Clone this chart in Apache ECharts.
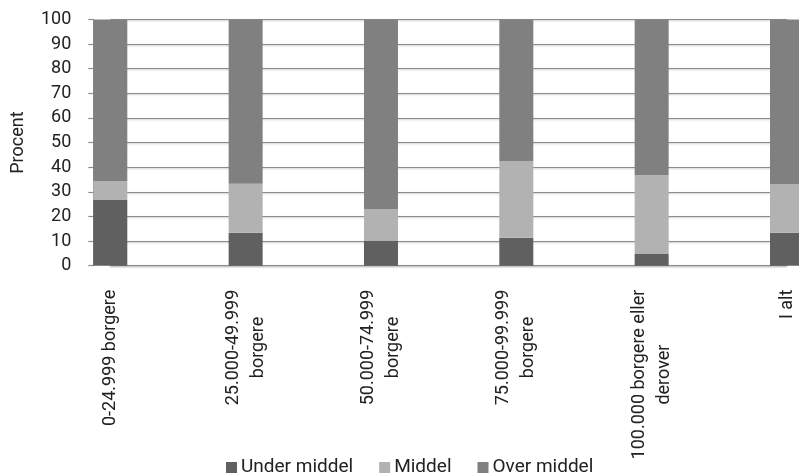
<!DOCTYPE html>
<html>
<head>
<meta charset="utf-8">
<script src="https://cdn.jsdelivr.net/npm/echarts@6/dist/echarts.min.js"></script>
<style>html,body{margin:0;padding:0;background:#fff}#c{width:799px;height:475px}</style>
</head>
<body>
<div id="c"></div>
<script>
const categories = ['0-24.999 borgere', '25.000-49.999\nborgere', '50.000-74.999\nborgere', '75.000-99.999\nborgere', '100.000 borgere eller\nderover', 'I alt'];
const seriesNames = ['Under middel', 'Middel', 'Over middel'];
const underMiddel = [26.7, 13.4, 10.2, 11.4, 5.0, 13.4];
const middel = [7.7, 19.9, 12.8, 31.0, 31.8, 19.7];
const overMiddel = [65.6, 66.7, 77.0, 57.6, 63.2, 66.9];
const yTicks = [0, 10, 20, 30, 40, 50, 60, 70, 80, 90, 100];
const colors = ['#606060', '#b2b2b2', '#808080'];

const FONT = 'Roboto, "Noto Sans", sans-serif';
const chart = echarts.init(document.getElementById('c'), null, {renderer: 'canvas'});
const values = [underMiddel, middel, overMiddel];
chart.setOption({
  animation: false,
  color: colors,
  textStyle: {fontFamily: FONT},
  grid: {left: 110.3, right: 12, top: 19.5, bottom: 209.3, containLabel: false},
  legend: {
    bottom: -7, left: 221,
    itemWidth: 11, itemHeight: 11, itemGap: 26,
    icon: 'rect',
    textStyle: {fontFamily: FONT, fontSize: 19, color: '#222', padding: [0, 0, 0, -1]},
    data: seriesNames
  },
  xAxis: {
    type: 'category',
    data: categories,
    boundaryGap: false,
    axisLine: {show: true, lineStyle: {color: '#8c8c8c', width: 1.2, shadowColor: 'rgba(0,0,0,0.25)', shadowBlur: 2, shadowOffsetY: 1}},
    axisTick: {show: false},
    splitLine: {show: false},
    axisLabel: {
      rotate: 90, margin: 24, interval: 0,
      color: '#222', fontFamily: FONT, fontSize: 18,
      formatter: v => v.split('\n').map(s => '{c|' + s + '}').join('\n'),
      rich: {c: {align: 'center', fontFamily: FONT, fontSize: 18, lineHeight: 25, color: '#222'}}
    }
  },
  yAxis: {
    type: 'value', min: yTicks[0], max: yTicks[yTicks.length - 1], interval: 10,
    offset: 17,
    name: 'Procent', nameLocation: 'middle', nameGap: 66, nameRotate: 90,
    nameTextStyle: {fontFamily: FONT, fontSize: 18, color: '#222'},
    axisLine: {show: true, lineStyle: {color: '#8c8c8c', width: 1}},
    axisTick: {show: true, length: 5, lineStyle: {color: '#8c8c8c', width: 1.2}},
    axisLabel: {margin: 22, color: '#222', fontFamily: FONT, fontSize: 18},
    splitLine: {show: true, lineStyle: {color: '#8c8c8c', width: 1.2, shadowColor: 'rgba(0,0,0,0.25)', shadowBlur: 2, shadowOffsetY: 1}}
  },
  series: seriesNames.map((n, i) => ({
    name: n, type: 'bar', stack: 'total', barWidth: 34, clip: false,
    data: values[i],
    itemStyle: {color: colors[i]}
  }))
});
</script>
</body>
</html>
